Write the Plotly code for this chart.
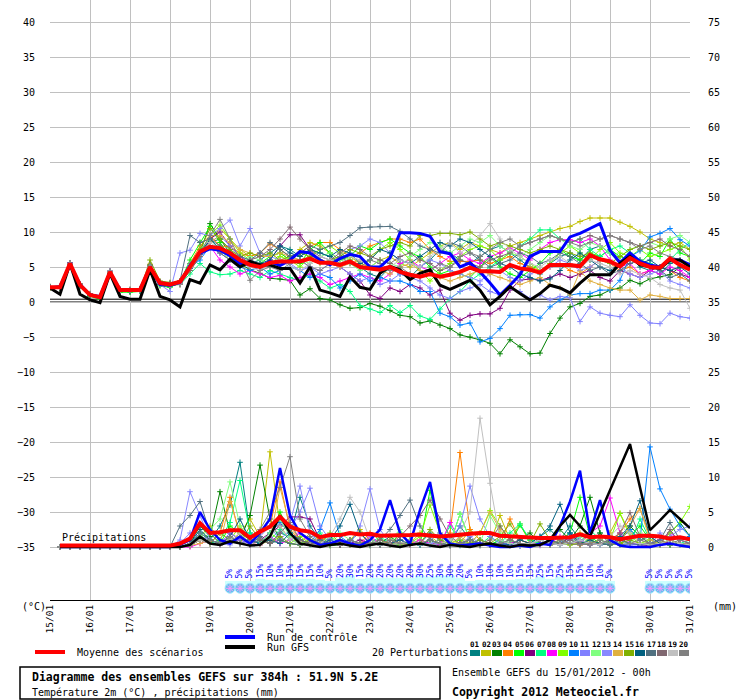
import pandas as pd
import plotly.graph_objects as go

# 6-hourly steps, 15/01/2012 00h -> 31/01/2012 00h (65 steps)
times = pd.date_range("2012-01-15 00:00", periods=65, freq="6h")

# ---- 2m temperature (degC) ----
t2m_mean = [2.1, 2.1, 5.5, 2.4, 1.0, 0.7, 4.3, 1.7, 1.7, 1.7, 5.0, 2.7, 2.5,
            2.9, 5.0, 7.2, 7.9, 7.7, 7.0, 6.0, 5.3, 5.0, 5.6,
            5.8, 5.8, 5.8, 6.2, 5.6, 5.6, 5.3, 5.8, 5.0, 4.8,
            4.6, 5.0, 4.3, 3.9, 3.6, 4.0, 3.6, 3.9, 4.3, 4.9,
            4.4, 4.4, 4.3, 5.3, 4.8, 4.6, 4.2, 5.3, 5.3, 5.3,
            5.1, 6.7, 6.1, 5.8, 5.1, 6.3, 5.5, 5.0, 4.9, 6.2,
            5.3, 4.6]
t2m_ctrl = [2.0, 2.2, 5.3, 2.5, 1.0, 0.8, 4.2, 1.8, 1.6, 1.8, 4.9, 2.5, 2.4,
            2.8, 5.2, 7.0, 7.6, 7.4, 6.6, 5.5, 5.4, 5.0, 5.8,
            5.2, 6.0, 7.2, 7.0, 6.0, 5.3, 6.2, 6.8, 6.5, 5.0,
            5.0, 6.3, 9.9, 9.9, 9.8, 9.4, 7.2, 6.9, 5.0, 5.6,
            4.3, 2.7, 1.0, 2.4, 3.9, 6.5, 7.2, 7.2, 7.2, 9.3,
            9.8, 10.5, 11.2, 7.4, 5.6, 7.0, 5.8, 5.3, 5.0, 6.0,
            6.0, 5.3]
t2m_gfs = [2.0, 1.1, 5.5, 1.1, 0.3, -0.1, 4.1, 0.8, 0.4, 0.4, 4.6, 0.8, 0.3,
           -0.7, 3.2, 2.7, 5.3, 4.6, 6.1, 5.0, 5.8, 5.3, 5.3,
           4.8, 4.8, 2.7, 5.0, 1.7, 1.3, 0.8, 3.6, 2.1, 1.8,
           4.1, 5.1, 4.6, 3.2, 4.1, 4.6, 2.4, 1.8, 2.4, 3.1,
           1.7, -0.4, 0.8, 2.2, 1.2, 0.3, 1.2, 2.4, 2.0, 1.3,
           2.7, 3.9, 3.9, 3.9, 5.5, 6.5, 5.3, 5.0, 4.8, 6.0,
           6.0, 5.0]

t2m_p01 = [2.1, 2.2, 5.6, 2.5, 1.1, 0.7, 4.4, 1.8, 1.7, 1.8, 5.2, 2.8, 2.6,
           3.0, 5.5, 7.5, 8.5, 9.0, 7.5, 6.0, 5.5, 6.0, 7.0,
           8.0, 7.5, 6.5, 7.5, 7.0, 6.5, 5.5, 6.0, 5.0, 4.0,
           3.5, 5.0, 4.0, 3.5, 5.0, 6.0, 7.5, 7.0, 6.0, 5.5,
           6.5, 7.5, 8.0, 7.0, 6.0, 5.0, 4.0, 5.5, 6.5, 7.0,
           6.0, 7.5, 8.0, 7.0, 5.5, 6.5, 5.0, 4.5, 4.0, 5.5,
           6.0, 5.0]
t2m_p02 = [2.0, 2.0, 5.3, 2.3, 0.9, 0.6, 4.1, 1.6, 1.6, 1.6, 5.1, 2.6, 2.4,
           2.7, 4.5, 6.5, 9.0, 10.5, 9.0, 7.5, 6.5, 7.0, 6.5,
           7.0, 6.0, 7.5, 8.5, 8.0, 7.0, 6.0, 6.5, 5.5, 5.0,
           6.0, 6.5, 5.5, 5.0, 6.0, 7.0, 8.0, 8.5, 7.5, 8.5,
           8.0, 7.5, 7.0, 8.0, 8.5, 9.0, 9.5, 10.0, 10.5, 10.8,
           11.5, 12.0, 12.0, 12.0, 11.4, 10.8, 10.0, 9.0, 8.5, 8.0,
           8.5, 7.5]
t2m_p03 = [2.0, 2.0, 5.3, 2.4, 1.0, 0.5, 4.1, 1.5, 1.5, 1.7, 5.1, 2.5, 2.3,
           2.6, 5.0, 7.0, 11.2, 9.0, 7.0, 5.5, 4.6, 4.1, 3.4,
           3.3, 3.1, 1.0, 1.9, 0.5, 0.3, -0.4, -0.9, -0.8, -0.2,
           -0.6, -1.2, -1.9, -2.1, -3.0, -2.7, -3.3, -3.8, -4.7, -5.0,
           -5.4, -5.9, -7.4, -5.4, -6.4, -7.4, -7.3, -4.5, -2.3, -0.7,
           -0.2, 0.8, 1.0, 1.7, 2.0, 3.1, 2.6, 3.3, 3.6, 3.9,
           5.0, 4.8]
t2m_p04 = [2.2, 2.1, 5.5, 2.6, 1.2, 0.8, 4.3, 1.7, 1.8, 1.9, 5.4, 2.9, 2.7,
           3.0, 5.5, 8.0, 9.5, 8.0, 7.9, 7.0, 6.5, 7.0, 8.3,
           7.5, 6.5, 7.0, 8.0, 8.5, 8.5, 7.5, 6.5, 7.0, 8.0,
           8.5, 9.0, 9.0, 8.5, 9.0, 7.5, 6.5, 5.8, 5.8, 5.8,
           6.0, 5.5, 6.0, 6.5, 5.5, 5.0, 4.5, 5.0, 5.5, 4.5,
           4.0, 5.0, 6.0, 5.5, 4.5, 5.0, 4.0, 4.5, 5.0, 4.5,
           3.5, 3.0]
t2m_p05 = [2.1, 2.0, 5.2, 2.2, 0.8, 0.4, 4.0, 1.4, 1.4, 1.5, 4.7, 2.3, 2.1,
           2.8, 6.0, 8.5, 10.8, 8.5, 6.5, 5.5, 6.0, 5.5, 6.5,
           7.0, 6.0, 5.5, 7.5, 8.5, 7.0, 6.0, 6.5, 8.0, 7.5,
           8.5, 9.0, 8.0, 7.0, 6.5, 5.0, 4.0, 4.5, 4.0, 3.5,
           5.0, 6.5, 5.0, 4.0, 3.5, 4.5, 5.5, 7.0, 7.5, 6.5,
           6.0, 7.0, 6.5, 7.5, 6.5, 6.0, 5.5, 7.0, 6.5, 9.0,
           7.0, 6.5]
t2m_p06 = [2.0, 2.2, 5.5, 2.4, 1.0, 0.7, 4.3, 1.7, 1.7, 1.7, 5.0, 2.7, 2.5,
           2.5, 4.5, 6.5, 9.0, 10.0, 8.0, 6.5, 5.5, 5.0, 6.0,
           8.0, 9.6, 9.6, 7.5, 6.0, 5.5, 5.0, 4.0, 3.0, 1.0,
           0.5, 2.0, 1.5, 2.5, 2.0, 1.0, 1.7, -1.6, -2.6, -1.9,
           -1.7, -1.7, -0.9, 1.7, 3.1, 3.3, 3.1, 3.5, 4.0, 3.5,
           4.0, 4.5, 3.5, 3.0, 4.5, 4.0, 3.5, 4.5, 5.0, 4.5,
           4.0, 3.5]
t2m_p07 = [2.0, 2.1, 5.4, 2.3, 0.9, 0.6, 4.2, 1.6, 1.6, 1.6, 4.9, 2.6, 2.4,
           2.5, 4.0, 5.5, 4.3, 3.9, 4.0, 4.5, 4.0, 3.5, 4.5,
           4.0, 3.5, 3.0, 4.0, 3.0, 2.0, 2.5, 1.5, -0.5, -1.0,
           -1.5, -0.5, -1.5, -0.5, -2.0, -2.5, -1.0, 0.5, 1.5, 3.0,
           4.0, 5.0, 6.0, 7.0, 8.0, 9.0, 10.3, 10.3, 9.0, 8.5,
           9.0, 7.5, 6.5, 7.5, 8.0, 7.0, 6.0, 5.5, 4.5, 6.0,
           7.5, 8.5]
t2m_p08 = [2.1, 2.2, 5.6, 2.5, 1.1, 0.7, 4.4, 1.8, 1.7, 1.8, 5.2, 2.8, 2.6,
           2.6, 4.8, 6.5, 8.0, 6.0, 5.0, 4.0, 4.5, 4.0, 3.5,
           3.8, 3.0, 3.5, 4.0, 3.5, 2.5, 3.0, 3.5, 4.0, 3.5,
           3.0, 4.0, 5.5, 6.0, 5.0, 4.5, 5.5, 6.5, 7.0, 6.0,
           5.5, 6.5, 7.0, 7.7, 7.0, 6.0, 7.5, 8.5, 8.9, 8.9,
           8.5, 9.0, 8.0, 6.0, 5.0, 5.5, 4.0, 4.5, 4.0, 5.0,
           4.5, 3.5]
t2m_p09 = [2.0, 2.0, 5.5, 2.4, 1.0, 0.6, 4.3, 1.7, 1.6, 1.7, 5.3, 2.7, 2.4,
           2.7, 5.0, 7.0, 9.5, 11.0, 9.0, 7.0, 6.0, 5.0, 5.5,
           6.5, 6.0, 5.0, 6.5, 7.5, 8.0, 7.0, 6.0, 5.0, 6.0,
           7.5, 8.5, 7.5, 6.0, 4.5, 3.0, 4.5, 5.5, 6.5, 7.5,
           8.0, 7.5, 6.0, 7.0, 6.5, 5.5, 4.5, 5.5, 7.0, 8.0,
           7.0, 6.0, 7.5, 8.5, 7.0, 6.5, 7.5, 6.5, 7.0, 7.5,
           8.0, 6.0]
t2m_p10 = [2.1, 2.1, 5.4, 2.5, 1.0, 0.6, 4.2, 1.6, 1.7, 1.8, 5.0, 2.6, 2.5,
           2.8, 5.0, 6.0, 8.0, 7.0, 6.0, 5.0, 4.5, 5.0, 4.0,
           4.5, 5.0, 4.5, 3.5, 4.0, 3.5, 2.0, 3.0, 4.0, 3.0,
           3.5, 3.0, 3.0, 2.5, 1.5, 1.5, -1.6, -2.1, -3.3, -3.0,
           -5.7, -5.2, -3.8, -1.9, -1.8, -1.8, -2.3, -0.7, 0.3, 1.0,
           1.2, 1.2, 1.7, 1.7, 3.1, 6.5, 7.3, 9.3, 9.8, 10.5,
           8.9, 8.0]
t2m_p11 = [2.1, 2.1, 5.5, 2.4, 1.0, 0.7, 4.3, 1.7, 1.7, 1.7, 5.0, 2.7, 2.5,
           2.8, 5.2, 7.0, 8.5, 9.5, 8.0, 6.5, 6.0, 5.5, 5.0,
           6.0, 5.5, 4.5, 5.0, 4.0, 4.5, 5.0, 4.0, 3.0, 3.5,
           2.5, 3.0, 4.0, 3.5, 3.0, 2.0, 1.0, 0.5, 1.5, 2.0,
           2.5, 1.5, 1.0, 2.0, 1.5, 0.5, 1.0, 0.3, 0.8, 0.6,
           -2.8, -0.7, -1.6, -1.9, -2.1, -0.4, -1.9, -3.0, -3.1, -1.6,
           -2.1, -2.3]
t2m_p12 = [2.2, 2.1, 5.4, 2.5, 1.1, 0.7, 4.2, 1.6, 1.7, 1.8, 5.1, 2.7, 2.6,
           3.0, 5.5, 7.5, 9.0, 7.5, 6.0, 5.5, 6.5, 6.0, 5.0,
           5.5, 6.5, 6.0, 5.5, 6.5, 7.0, 6.0, 5.5, 4.5, 5.0,
           6.0, 5.5, 5.0, 6.5, 7.5, 8.5, 8.0, 7.0, 8.0, 9.0,
           8.5, 9.5, 8.0, 7.0, 6.5, 7.5, 8.5, 9.5, 9.0, 8.0,
           7.5, 8.5, 8.0, 7.0, 6.5, 7.5, 8.0, 8.5, 8.0, 9.0,
           9.5, 8.5]
t2m_p13 = [2.0, 2.1, 5.3, 2.3, 0.9, 0.6, 4.1, 1.5, 1.6, 1.6, 4.9, 2.5, 1.5,
           7.0, 7.4, 9.8, 9.5, 10.5, 11.7, 8.0, 10.5, 7.0, 6.5,
           6.0, 5.5, 6.0, 5.0, 4.5, 5.5, 6.5, 7.5, 8.0, 9.0,
           8.5, 7.0, 6.0, 5.5, 5.0, 6.0, 5.5, 4.5, 4.0, 3.5,
           3.0, 4.0, 4.5, 3.5, 3.0, 4.0, 4.5, 5.0, 6.0, 5.5,
           4.5, 5.0, 6.0, 5.5, 5.0, 4.0, 3.5, 4.0, 4.5, 3.0,
           2.5, 2.0]
t2m_p14 = [2.0, 2.0, 5.4, 2.4, 1.0, 0.6, 4.2, 1.7, 1.6, 1.7, 5.0, 2.6, 2.4,
           2.5, 4.5, 6.5, 8.5, 9.5, 8.5, 7.5, 7.0, 6.5, 6.5,
           7.0, 6.5, 6.0, 6.5, 6.0, 5.5, 5.0, 5.5, 6.0, 5.0,
           4.5, 4.0, 5.0, 5.5, 4.5, 4.0, 3.5, 3.0, 3.5, 4.0,
           4.5, 4.0, 3.5, 3.0, 2.5, 3.0, 3.5, 2.5, 2.0, 1.0,
           4.4, 3.0, 2.5, 2.0, 1.7, 1.7, 0.3, 1.0, 0.8, 0.5,
           0.5, 0.5]
t2m_p15 = [2.0, 2.2, 5.5, 2.4, 1.0, 0.7, 4.3, 1.7, 1.7, 1.7, 6.0, 3.0, 2.8,
           2.7, 5.0, 7.5, 10.5, 9.0, 7.5, 6.5, 7.0, 6.5, 7.0,
           6.0, 6.5, 7.0, 6.5, 5.5, 6.0, 6.5, 7.5, 7.0, 6.5,
           7.5, 8.0, 8.5, 8.0, 9.5, 9.5, 9.8, 9.8, 9.6, 10.0,
           9.0, 8.0, 8.5, 8.0, 7.5, 7.0, 7.5, 8.0, 7.5, 7.0,
           6.5, 7.0, 6.0, 5.5, 6.5, 7.5, 8.0, 7.5, 8.0, 8.5,
           8.0, 7.5]
t2m_p16 = [2.1, 2.0, 5.3, 2.3, 0.9, 0.5, 4.1, 1.5, 1.5, 1.6, 4.8, 2.5, 2.3,
           2.6, 4.8, 6.8, 9.0, 7.5, 6.5, 6.0, 5.0, 5.5, 6.0,
           8.0, 7.0, 6.5, 7.5, 7.0, 6.5, 7.5, 7.0, 5.5, 6.0,
           7.5, 7.0, 6.0, 5.5, 6.5, 7.5, 8.5, 8.0, 9.0, 8.5,
           7.5, 6.5, 5.5, 5.0, 4.0, 3.5, 3.0, 3.3, 4.5, 6.0,
           7.0, 6.0, 5.0, 4.5, 5.5, 6.5, 5.5, 6.0, 5.0, 4.5,
           5.0, 4.0]
t2m_p17 = [2.2, 2.2, 5.6, 2.6, 1.2, 0.8, 4.4, 1.8, 1.8, 1.9, 5.3, 2.9, 2.7,
           3.0, 9.5, 8.5, 9.0, 8.0, 7.0, 6.5, 6.0, 7.0, 8.5,
           7.5, 6.5, 7.0, 8.0, 7.5, 8.0, 8.5, 9.5, 10.6, 10.7,
           10.8, 10.8, 10.1, 9.0, 8.0, 7.5, 7.0, 8.5, 8.0, 7.0,
           6.0, 5.0, 5.5, 6.0, 7.0, 6.5, 5.5, 6.0, 7.0, 6.5,
           5.5, 4.5, 5.0, 4.0, 4.5, 5.5, 6.0, 5.0, 4.5, 3.5,
           4.0, 3.0]
t2m_p18 = [2.1, 2.1, 5.4, 2.4, 1.0, 0.6, 4.3, 1.7, 1.7, 1.8, 5.1, 2.7, 2.5,
           2.5, 4.5, 6.5, 8.0, 7.0, 6.0, 5.5, 6.0, 6.5, 7.5,
           9.0, 10.7, 9.0, 7.5, 6.5, 6.0, 7.0, 8.0, 7.5, 6.5,
           6.0, 5.5, 6.5, 7.0, 6.0, 5.5, 4.5, 5.0, 6.0, 5.5,
           5.0, 6.0, 6.5, 7.0, 8.0, 8.5, 9.0, 9.5, 9.0, 8.5,
           9.0, 9.5, 9.0, 9.5, 9.0, 8.5, 8.0, 8.5, 9.0, 8.0,
           7.5, 6.5]
t2m_p19 = [2.0, 2.1, 5.5, 2.5, 1.1, 0.7, 4.3, 1.6, 1.7, 1.7, 5.0, 2.6, 2.4,
           2.6, 5.0, 7.0, 8.5, 7.5, 6.5, 5.5, 5.0, 4.5, 5.5,
           6.0, 5.0, 4.5, 5.5, 6.5, 6.0, 5.5, 6.5, 6.0, 5.0,
           4.5, 5.0, 6.0, 5.5, 5.0, 6.5, 7.5, 8.5, 7.0, 8.0,
           9.5, 11.2, 9.0, 7.5, 6.5, 5.5, 5.0, 6.0, 6.5, 5.5,
           5.0, 6.0, 5.5, 5.0, 4.0, 4.5, 4.0, 3.5, 2.5, 2.0,
           1.7, -0.9]
t2m_p20 = [2.1, 2.2, 5.5, 2.5, 1.1, 0.7, 4.4, 1.8, 1.7, 1.7, 5.1, 2.8, 2.5,
           2.8, 5.5, 7.0, 9.5, 11.8, 9.0, 6.0, 3.1, 4.5, 5.0,
           4.5, 5.5, 6.0, 5.0, 4.5, 5.5, 6.5, 5.5, 5.0, 6.0,
           5.5, 4.5, 5.0, 4.0, 3.5, 4.5, 5.5, 5.0, 6.5, 7.0,
           6.5, 7.5, 8.5, 9.0, 8.0, 8.5, 9.0, 9.5, 9.0, 8.5,
           8.0, 8.5, 9.0, 9.5, 9.0, 8.5, 7.5, 8.0, 7.0, 6.5,
           6.0, 5.5]

# ---- precipitation (mm / 6h) ----
rr_mean = [None, 0.2, 0.2, 0.2, 0.2, 0.2, 0.2, 0.2, 0.2, 0.2, 0.2, 0.2, 0.2,
           0.5, 1.2, 3.4, 2.0, 2.1, 2.4, 2.4, 1.3, 2.2, 2.9,
           4.3, 2.9, 2.4, 2.2, 1.4, 1.7, 1.7, 2.0, 1.8, 1.9,
           1.6, 1.6, 1.6, 1.7, 1.8, 1.6, 1.5, 1.6, 1.8, 1.9,
           2.0, 2.0, 1.6, 1.5, 1.4, 1.4, 1.3, 1.3, 1.3, 1.4,
           1.8, 1.4, 1.5, 1.4, 1.1, 1.4, 1.6, 1.6, 1.5, 1.2,
           1.4, 1.1]
rr_ctrl = [None, 0, 0, 0, 0, 0, 0, 0, 0, 0, 0, 0, 0,
           0.3, 1.0, 5.0, 2.5, 1.0, 0.5, 1.5, 0.5, 2.0, 4.0,
           11.3, 4.5, 2.0, 1.0, 0.3, 0.5, 1.0, 0.5, 0.2, 1.0,
           2.5, 6.7, 2.0, 0.5, 5.3, 9.3, 2.0, 0.5, 0.2, 0.3,
           0.5, 0.2, 0.0, 0.0, 0.2, 0.0, 0.5, 0.3, 3.0, 6.5,
           10.9, 2.0, 6.7, 1.0, 0.2, 0.0, 0.0, 0.0, 0.3, 0.5,
           0.2, 0.0]
rr_gfs = [None, 0, 0, 0, 0, 0, 0, 0, 0, 0, 0, 0, 0,
          0.0, 0.3, 1.5, 0.5, 0.3, 0.8, 0.5, 0.2, 0.3, 1.5,
          4.5, 2.0, 0.5, 0.2, 0.0, 0.3, 0.5, 0.2, 0.0, 0.3,
          0.5, 0.2, 0.0, 0.3, 0.5, 0.2, 0.0, 0.3, 0.2, 0.0,
          0.3, 0.5, 0.2, 0.0, 0.3, 0.2, 0.3, 1.0, 3.0, 4.6,
          3.0, 1.5, 4.8, 8.1, 11.4, 14.7, 8.5, 2.4, 3.8, 5.3,
          4.0, 2.7]

rr_p01 = [None, 0, 0, 0, 0, 0, 0, 0, 0, 0, 0, 0, 0,
          0.0, 0.5, 2.0, 1.0, 3.0, 6.0, 12.1, 2.0, 1.0, 0.5,
          2.0, 1.5, 7.1, 3.0, 1.0, 0.5, 0.3, 1.0, 2.0, 0.5,
          1.0, 0.5, 0.2, 1.0, 0.5, 2.0, 1.0, 0.5, 3.0, 1.0,
          0.5, 0.3, 1.0, 0.5, 0.2, 0.5, 1.5, 2.5, 1.0, 3.0,
          1.0, 0.5, 2.0, 0.5, 1.0, 2.5, 1.0, 1.5, 0.5, 1.0,
          0.5, 0.3]
rr_p02 = [None, 0, 0, 0, 0, 0, 0, 0, 0, 0, 0, 0, 0,
          0.0, 0.3, 1.5, 3.0, 1.0, 0.5, 2.0, 4.0, 1.5, 13.6,
          3.0, 1.0, 0.5, 2.0, 1.0, 0.3, 0.5, 1.0, 2.5, 1.0,
          0.5, 0.3, 1.0, 0.5, 2.0, 1.5, 0.5, 1.0, 0.5, 2.5,
          1.0, 0.5, 4.5, 1.0, 3.3, 0.5, 1.0, 0.5, 0.3, 1.5,
          2.0, 0.5, 1.0, 2.0, 4.8, 2.0, 1.0, 0.5, 0.3, 1.0,
          0.5, 0.5]
rr_p03 = [None, 0, 0, 0, 0, 0, 0, 0, 0, 0, 0, 0, 0,
          0.0, 0.5, 3.0, 1.5, 7.9, 2.0, 1.0, 4.5, 11.7, 4.0,
          1.0, 0.5, 0.3, 1.0, 0.5, 0.2, 0.3, 1.0, 0.5, 0.2,
          0.5, 1.5, 0.5, 0.3, 0.5, 1.0, 0.3, 0.2, 0.5, 0.3,
          0.2, 0.5, 0.3, 0.5, 1.0, 2.0, 0.5, 1.0, 2.5, 1.0,
          3.0, 7.1, 2.0, 0.5, 1.0, 3.0, 1.5, 0.5, 1.0, 2.0,
          3.5, 1.5]
rr_p04 = [None, 0, 0, 0, 0, 0, 0, 0, 0, 0, 0, 0, 0,
          0.0, 0.3, 1.0, 0.5, 2.0, 7.1, 1.5, 0.5, 2.0, 3.0,
          9.3, 2.5, 1.0, 0.5, 1.5, 0.5, 0.3, 1.0, 0.5, 2.0,
          1.0, 0.5, 0.3, 0.5, 1.0, 0.5, 0.3, 2.0, 13.5, 2.5,
          1.0, 0.5, 0.3, 4.0, 1.0, 0.5, 0.3, 0.5, 1.0, 0.5,
          0.3, 0.5, 1.0, 0.5, 2.0, 4.0, 5.5, 1.5, 0.5, 0.3,
          0.5, 0.2]
rr_p05 = [None, 0, 0, 0, 0, 0, 0, 0, 0, 0, 0, 0, 0,
          0.0, 0.2, 2.0, 1.0, 0.5, 3.0, 2.0, 1.0, 0.5, 1.5,
          5.0, 2.0, 1.0, 0.5, 0.3, 1.5, 0.5, 0.3, 0.5, 1.0,
          0.5, 0.3, 2.0, 0.5, 0.3, 8.1, 1.5, 0.5, 4.7, 1.0,
          0.5, 0.3, 1.0, 0.5, 3.1, 1.0, 0.5, 0.3, 1.0, 2.0,
          7.1, 1.5, 0.5, 1.0, 0.5, 1.5, 3.0, 1.0, 0.5, 0.3,
          0.5, 0.2]
rr_p06 = [None, 0, 0, 0, 0, 0, 0, 0, 0, 0, 0, 0, 0,
          0.0, 0.2, 1.0, 0.5, 0.3, 1.5, 0.5, 0.3, 1.0, 2.0,
          3.0, 4.3, 4.3, 4.0, 1.0, 0.5, 0.3, 0.5, 1.0, 0.5,
          0.3, 0.5, 1.0, 0.5, 0.3, 0.5, 0.3, 0.2, 0.5, 1.0,
          0.5, 0.3, 0.5, 0.3, 0.2, 0.5, 1.0, 0.5, 0.3, 1.5,
          1.0, 0.5, 0.3, 0.5, 1.0, 0.5, 0.3, 0.2, 1.0, 0.5,
          0.3, 0.2]
rr_p07 = [None, 0, 0, 0, 0, 0, 0, 0, 0, 0, 0, 0, 0,
          0.0, 0.3, 1.5, 0.5, 1.0, 3.5, 9.5, 2.0, 0.5, 1.0,
          2.5, 1.0, 0.5, 0.3, 2.0, 0.5, 1.0, 0.5, 0.3, 0.5,
          1.5, 0.5, 0.3, 0.5, 0.3, 1.0, 0.5, 3.0, 1.0, 0.5,
          0.3, 1.5, 0.5, 2.0, 3.3, 1.0, 0.5, 0.3, 0.5, 1.0,
          0.5, 2.5, 1.0, 0.5, 0.3, 0.5, 4.0, 1.0, 0.5, 0.3,
          0.5, 1.0]
rr_p08 = [None, 0, 0, 0, 0, 0, 0, 0, 0, 0, 0, 0, 0,
          0.0, 0.0, 0.5, 1.0, 0.5, 2.0, 1.0, 0.5, 0.3, 1.5,
          0.5, 1.0, 2.0, 0.5, 0.3, 1.0, 0.5, 0.3, 0.5, 1.5,
          0.5, 0.3, 0.5, 0.3, 1.0, 0.5, 0.3, 3.5, 1.0, 0.5,
          0.3, 0.5, 0.3, 0.5, 1.0, 0.5, 0.3, 0.5, 1.5, 1.0,
          0.5, 2.0, 3.0, 7.0, 2.0, 0.5, 0.3, 0.5, 1.0, 2.0,
          1.0, 0.5]
rr_p09 = [None, 0, 0, 0, 0, 0, 0, 0, 0, 0, 0, 0, 0,
          0.0, 0.2, 1.0, 2.0, 0.5, 1.0, 3.0, 1.0, 0.5, 2.0,
          1.0, 0.5, 1.5, 0.5, 0.3, 0.5, 1.0, 0.5, 0.3, 0.5,
          1.0, 0.5, 0.3, 0.5, 1.5, 6.0, 2.0, 0.5, 1.0, 0.5,
          2.0, 5.2, 3.0, 1.0, 0.5, 0.3, 0.5, 1.0, 0.5, 0.3,
          0.5, 1.0, 0.5, 1.0, 4.8, 1.5, 0.5, 1.0, 0.5, 2.0,
          3.5, 5.8]
rr_p10 = [None, 0, 0, 0, 0, 0, 0, 0, 0, 0, 0, 0, 0,
          0.0, 0.3, 2.0, 1.0, 0.5, 1.5, 0.5, 1.0, 0.5, 2.0,
          3.5, 2.0, 1.0, 0.5, 2.5, 6.3, 1.5, 0.5, 0.3, 1.0,
          0.5, 0.3, 0.5, 1.0, 0.5, 0.3, 0.5, 0.3, 0.2, 0.5,
          1.0, 0.5, 0.3, 0.5, 0.2, 0.3, 0.5, 1.0, 0.5, 2.0,
          1.0, 0.5, 0.3, 0.5, 1.0, 2.5, 1.0, 14.3, 8.3, 5.4,
          3.0, 1.5]
rr_p11 = [None, 0, 0, 0, 0, 0, 0, 0, 0, 0, 0, 0, 0,
          0.5, 2.0, 1.5, 1.0, 0.5, 2.0, 1.0, 0.5, 1.5, 3.0,
          1.0, 2.5, 5.0, 8.4, 3.0, 1.0, 0.5, 1.0, 0.5, 0.3,
          0.5, 1.0, 0.5, 0.3, 0.5, 1.0, 2.0, 1.0, 3.0, 8.7,
          4.0, 1.5, 0.5, 0.3, 0.5, 0.3, 0.2, 0.5, 0.3, 1.0,
          0.5, 0.3, 0.5, 1.0, 0.5, 0.3, 0.5, 0.3, 2.0, 0.5,
          0.3, 0.5]
rr_p12 = [None, 0, 0, 0, 0, 0, 0, 0, 0, 0, 0, 0, 0,
          0.0, 0.3, 1.5, 2.5, 4.0, 9.3, 3.0, 1.0, 0.5, 2.0,
          4.0, 1.5, 0.5, 1.0, 0.5, 0.3, 2.0, 1.0, 0.5, 0.3,
          0.5, 1.0, 2.5, 0.5, 0.3, 0.5, 1.0, 0.5, 4.7, 1.0,
          0.5, 4.5, 2.0, 0.5, 0.3, 0.5, 1.0, 0.5, 0.3, 0.5,
          1.5, 0.5, 0.3, 0.5, 1.0, 0.5, 2.0, 0.5, 0.3, 0.5,
          0.3, 0.2]
rr_p13 = [None, 0, 0, 0, 0, 0, 0, 0, 0, 0, 0, 0, 0,
          1.0, 7.9, 4.5, 1.0, 0.5, 0.3, 1.5, 0.5, 1.0, 0.5,
          2.0, 3.5, 8.7, 2.0, 0.5, 1.0, 0.5, 0.3, 3.0, 8.3,
          2.5, 0.5, 1.0, 0.5, 0.3, 0.5, 1.0, 0.5, 0.3, 1.5,
          0.5, 0.3, 0.5, 0.3, 0.2, 0.5, 1.0, 0.5, 0.3, 0.5,
          1.0, 0.5, 0.3, 0.5, 1.0, 0.5, 0.3, 0.5, 1.0, 1.5,
          2.5, 3.0]
rr_p14 = [None, 0, 0, 0, 0, 0, 0, 0, 0, 0, 0, 0, 0,
          0.0, 0.2, 0.5, 1.0, 0.5, 6.5, 2.0, 0.5, 0.3, 1.0,
          8.5, 3.0, 1.0, 0.5, 0.3, 0.5, 1.0, 0.5, 0.3, 0.5,
          0.3, 1.0, 0.5, 0.3, 0.5, 1.0, 0.5, 0.3, 1.5, 0.5,
          2.0, 5.0, 2.5, 1.0, 0.5, 0.3, 0.5, 0.3, 1.0, 0.5,
          0.3, 0.5, 1.0, 2.0, 0.5, 3.0, 5.5, 1.0, 0.5, 0.3,
          0.5, 0.3]
rr_p15 = [None, 0, 0, 0, 0, 0, 0, 0, 0, 0, 0, 0, 0,
          0.0, 0.3, 1.0, 0.5, 2.0, 1.0, 0.5, 3.0, 1.0, 0.5,
          1.5, 0.5, 0.3, 1.0, 0.5, 2.0, 0.5, 0.3, 0.5, 1.0,
          0.5, 0.3, 0.5, 1.0, 0.5, 2.5, 1.0, 0.5, 0.3, 0.5,
          1.0, 0.5, 1.5, 3.3, 1.0, 0.5, 3.3, 1.0, 0.5, 0.3,
          0.5, 1.0, 0.5, 0.3, 0.5, 1.0, 0.5, 0.3, 0.5, 1.0,
          0.5, 0.3]
rr_p16 = [None, 0, 0, 0, 0, 0, 0, 0, 0, 0, 0, 0, 0,
          0.0, 0.5, 2.5, 1.0, 0.5, 1.5, 4.0, 1.0, 0.5, 1.0,
          0.5, 2.0, 1.0, 0.5, 0.3, 1.0, 3.0, 6.1, 2.0, 0.5,
          0.3, 0.5, 1.0, 0.5, 0.3, 1.0, 0.5, 0.3, 0.5, 1.0,
          0.5, 0.3, 0.5, 0.3, 1.0, 0.5, 1.5, 3.0, 6.1, 2.0,
          0.5, 1.0, 0.5, 0.3, 1.5, 3.0, 6.6, 1.5, 0.5, 0.3,
          0.5, 0.2]
rr_p17 = [None, 0, 0, 0, 0, 0, 0, 0, 0, 0, 0, 0, 0,
          3.0, 4.5, 6.5, 2.0, 0.5, 1.0, 0.5, 0.3, 1.5, 0.5,
          1.0, 0.5, 0.3, 0.5, 1.0, 0.5, 0.3, 1.0, 0.5, 0.3,
          1.0, 2.5, 4.5, 6.7, 3.0, 1.0, 0.5, 0.3, 0.5, 1.0,
          0.5, 0.3, 0.5, 1.0, 0.5, 0.3, 0.5, 1.0, 0.5, 1.5,
          0.5, 0.3, 0.5, 0.3, 1.0, 0.5, 0.3, 0.5, 1.0, 3.5,
          1.0, 0.5]
rr_p18 = [None, 0, 0, 0, 0, 0, 0, 0, 0, 0, 0, 0, 0,
          0.0, 0.2, 1.0, 0.5, 0.3, 1.5, 0.5, 0.3, 1.0, 0.5,
          2.0, 3.5, 1.0, 0.5, 0.3, 0.5, 1.0, 0.5, 0.3, 0.5,
          1.0, 0.5, 1.5, 3.0, 4.5, 6.7, 4.0, 1.5, 0.5, 0.3,
          0.5, 1.0, 3.0, 1.0, 0.5, 0.3, 0.5, 0.3, 0.5, 1.0,
          0.5, 0.3, 0.5, 1.0, 2.0, 4.9, 1.5, 0.5, 0.3, 2.5,
          0.5, 0.3]
rr_p19 = [None, 0, 0, 0, 0, 0, 0, 0, 0, 0, 0, 0, 0,
          0.0, 0.3, 1.0, 0.5, 0.3, 1.0, 2.0, 0.5, 0.3, 1.5,
          3.0, 1.0, 0.5, 0.3, 0.5, 1.5, 4.0, 7.1, 5.0, 1.0,
          0.5, 0.3, 0.5, 1.0, 0.5, 0.3, 0.5, 1.0, 2.0, 5.0,
          18.4, 9.1, 1.0, 0.5, 0.3, 0.5, 1.0, 0.5, 0.3, 0.5,
          1.0, 0.5, 0.3, 1.5, 3.0, 2.0, 0.5, 0.3, 0.5, 1.0,
          0.5, 0.3]
rr_p20 = [None, 0, 0, 0, 0, 0, 0, 0, 0, 0, 0, 0, 0,
          0.0, 0.5, 2.0, 1.0, 0.5, 1.5, 0.5, 1.0, 2.5, 5.0,
          8.5, 12.9, 4.0, 1.5, 0.5, 0.3, 0.5, 1.0, 0.5, 0.3,
          0.5, 1.0, 0.5, 0.3, 0.5, 1.0, 0.5, 0.3, 0.5, 1.0,
          0.5, 0.3, 0.5, 1.0, 0.5, 0.3, 0.5, 0.3, 1.0, 0.5,
          0.3, 0.5, 1.0, 0.5, 0.3, 0.5, 1.0, 0.5, 0.3, 0.5,
          1.0, 0.5]

# snow probability (%), from 19/01 12h onwards (None = no snow signal)
snow_pct = [5, 5, 5, 15, 10, 10, 15, 15, 15, 10, 5, 20, 30, 15, 20, 20, 20, 20, 20, 30,
            25, 30, 30, 20, 5, 10, 10, 10, 10, 15, 15, 25, 15, 25, 15, 15, 10, 10, 5,
            None, None, None, 5, 5, 5, 5, 5]
snow_times = times[18:]

pert_labels = ["01", "02", "03", "04", "05", "06", "07", "08", "09", "10",
               "11", "12", "13", "14", "15", "16", "17", "18", "19", "20"]
pert_colors = ["#008080", "#c0c000", "#008000", "#ff8000", "#00ff00", "#800080", "#00ff80",
               "#ff00ff", "#80ff00", "#0080ff", "#8080ff", "#80ff80", "#8888ff", "#e0b040",
               "#80b000", "#006080", "#507080", "#806870", "#c0c0c0", "#808080"]

t2m_perts = [t2m_p01, t2m_p02, t2m_p03, t2m_p04, t2m_p05, t2m_p06, t2m_p07, t2m_p08, t2m_p09, t2m_p10,
             t2m_p11, t2m_p12, t2m_p13, t2m_p14, t2m_p15, t2m_p16, t2m_p17, t2m_p18, t2m_p19, t2m_p20]
rr_perts = [rr_p01, rr_p02, rr_p03, rr_p04, rr_p05, rr_p06, rr_p07, rr_p08, rr_p09, rr_p10,
            rr_p11, rr_p12, rr_p13, rr_p14, rr_p15, rr_p16, rr_p17, rr_p18, rr_p19, rr_p20]

for s in t2m_perts + rr_perts + [t2m_mean, t2m_ctrl, t2m_gfs, rr_mean, rr_ctrl, rr_gfs]:
    assert len(s) == 65, len(s)
assert len(snow_pct) == len(snow_times)

MONO = "DejaVu Sans Mono"
W, H = 740, 700
L, R, T, B = 50, 50, 0, 100


def px(xp):
    return (xp - L) / (W - L - R)


def py(yp):
    return (H - B - yp) / (H - T - B)


fig = go.Figure()

# perturbations: precipitation then temperature
for vals, col in zip(rr_perts, pert_colors):
    fig.add_trace(go.Scatter(x=times, y=vals, yaxis="y2", mode="lines+markers",
                             line=dict(color=col, width=1),
                             marker=dict(symbol="cross-thin", size=4, line=dict(color=col, width=1))))
for vals, col in zip(t2m_perts, pert_colors):
    fig.add_trace(go.Scatter(x=times, y=vals, mode="lines+markers",
                             line=dict(color=col, width=1),
                             marker=dict(symbol="cross-thin", size=4, line=dict(color=col, width=1))))

# control, GFS, mean
fig.add_trace(go.Scatter(x=times, y=rr_ctrl, yaxis="y2", mode="lines", line=dict(color="#0000ff", width=2.5)))
fig.add_trace(go.Scatter(x=times, y=t2m_ctrl, mode="lines", line=dict(color="#0000ff", width=3)))
fig.add_trace(go.Scatter(x=times, y=rr_gfs, yaxis="y2", mode="lines", line=dict(color="#000000", width=2.5)))
fig.add_trace(go.Scatter(x=times, y=t2m_gfs, mode="lines", line=dict(color="#000000", width=3)))
fig.add_trace(go.Scatter(x=times, y=rr_mean, yaxis="y2", mode="lines", line=dict(color="#ff0000", width=4)))
fig.add_trace(go.Scatter(x=times, y=t2m_mean, mode="lines", line=dict(color="#ff0000", width=4)))

# snow band
fig.add_trace(go.Bar(x=snow_times, y=[None if p is None else 0.9 + p * 0.03 for p in snow_pct],
                     base=-40.9, width=6 * 3600 * 1000, marker=dict(color="#ccffff", line=dict(width=0))))
snow_y = [None if p is None else -40.9 for p in snow_pct]
fig.add_trace(go.Scatter(x=snow_times, y=snow_y, mode="markers",
                         marker=dict(symbol="circle", size=10, color="#5ec6ee",
                                     line=dict(color="#a8e6fc", width=1))))
fig.add_trace(go.Scatter(x=snow_times, y=snow_y, mode="markers",
                         marker=dict(symbol="asterisk-open", size=7, line=dict(color="#d4f6ff", width=1))))

annotations = []
for t, p in zip(snow_times, snow_pct):
    if p is None:
        continue
    annotations.append(dict(x=t, y=-39.8, xref="x", yref="y", text=f"{p}%", showarrow=False,
                            textangle=-90, xanchor="center", yanchor="bottom",
                            font=dict(family=MONO, size=8, color="#0000ff")))

annotations.append(dict(x=times[1], y=-33.6, xref="x", yref="y", text="Précipitations",
                        showarrow=False, xanchor="left", yanchor="middle",
                        font=dict(family=MONO, size=10, color="black")))

def text_at(xp, yp, s, size=10, bold=False, anchor="left"):
    annotations.append(dict(x=px(xp), y=py(yp), xref="paper", yref="paper",
                            text=f"<b>{s}</b>" if bold else s, showarrow=False,
                            xanchor=anchor, yanchor="middle",
                            font=dict(family=MONO, size=size, color="black")))

text_at(20, 606, "(°C)")
text_at(711, 606, "(mm)")
text_at(75, 652, "Moyenne des scénarios")
text_at(265, 637, "Run de contrôle")
text_at(265, 647, "Run GFS")
text_at(370, 652, "20 Perturbations")
text_at(30, 677, "Diagramme des ensembles GEFS sur 384h : 51.9N 5.2E", size=11.5, bold=True)
text_at(30, 692, "Température 2m (°C) , précipitations (mm)")
text_at(450, 672, "Ensemble GEFS du 15/01/2012 - 00h")
text_at(450, 692, "Copyright 2012 Meteociel.fr", size=11.5, bold=True)

shapes = [
    dict(type="line", xref="paper", yref="y", x0=0, x1=1, y0=0.0, y1=0.0,
         line=dict(color="black", width=1), layer="between"),
    dict(type="line", xref="paper", yref="y", x0=0, x1=1, y0=0.4, y1=0.4,
         line=dict(color="black", width=1), layer="between"),
    dict(type="line", xref="paper", yref="paper", x0=px(35), x1=px(65), y0=py(652), y1=py(652),
         line=dict(color="#ff0000", width=4)),
    dict(type="line", xref="paper", yref="paper", x0=px(225), x1=px(255), y0=py(637), y1=py(637),
         line=dict(color="#0000ff", width=4)),
    dict(type="line", xref="paper", yref="paper", x0=px(225), x1=px(255), y0=py(647), y1=py(647),
         line=dict(color="#000000", width=4)),
    dict(type="rect", xref="paper", yref="paper", x0=px(20), x1=px(440), y0=py(667), y1=py(699),
         line=dict(color="black", width=1.5)),
]
for i, (lab, col) in enumerate(zip(pert_labels, pert_colors)):
    x0 = 470 + 11 * i
    shapes.append(dict(type="rect", xref="paper", yref="paper", x0=px(x0), x1=px(x0 + 10),
                       y0=py(656), y1=py(650), fillcolor=col, line=dict(width=0)))
    annotations.append(dict(x=px(x0 + 5), y=py(644), xref="paper", yref="paper", text=f"<b>{lab}</b>",
                            showarrow=False, xanchor="center", yanchor="middle",
                            font=dict(family=MONO, size=7.5, color="black")))

fig.update_layout(
    width=W, height=H, autosize=False,
    margin=dict(l=L, r=R, t=T, b=B),
    paper_bgcolor="white", plot_bgcolor="white",
    showlegend=False, hovermode=False,
    font=dict(family=MONO, size=10, color="black"),
    xaxis=dict(type="date", range=[times[0], times[-1]], tickformat="%d/%m",
               tick0=times[0], dtick=86400000, tickangle=-90,
               showgrid=True, gridcolor="#c0c0c0", gridwidth=1,
               showline=True, linecolor="black", linewidth=1,
               ticks="", tickfont=dict(family=MONO, size=9.5), zeroline=False),
    yaxis=dict(range=[-42.571, 43.143], tickmode="array",
               tickvals=[-35, -30, -25, -20, -15, -10, -5, 0, 5, 10, 15, 20, 25, 30, 35, 40],
               showgrid=True, gridcolor="#c0c0c0", gridwidth=1, zeroline=False, showline=False,
               ticks="outside", ticklen=12, tickcolor="rgba(0,0,0,0)",
               tickfont=dict(family=MONO, size=10)),
    yaxis2=dict(range=[-7.571, 78.143], overlaying="y", side="right", tickmode="array",
                tickvals=[0, 5, 10, 15, 20, 25, 30, 35, 40, 45, 50, 55, 60, 65, 70, 75],
                showgrid=False, zeroline=False, showline=False,
                ticks="outside", ticklen=15, tickcolor="rgba(0,0,0,0)",
                tickfont=dict(family=MONO, size=10)),
    annotations=annotations,
    shapes=shapes,
)

# page body without default margin so the figure sits at the window origin
fig.write_html("out.html", config={"displayModeBar": False},
               post_script="document.body.style.margin='0';")
